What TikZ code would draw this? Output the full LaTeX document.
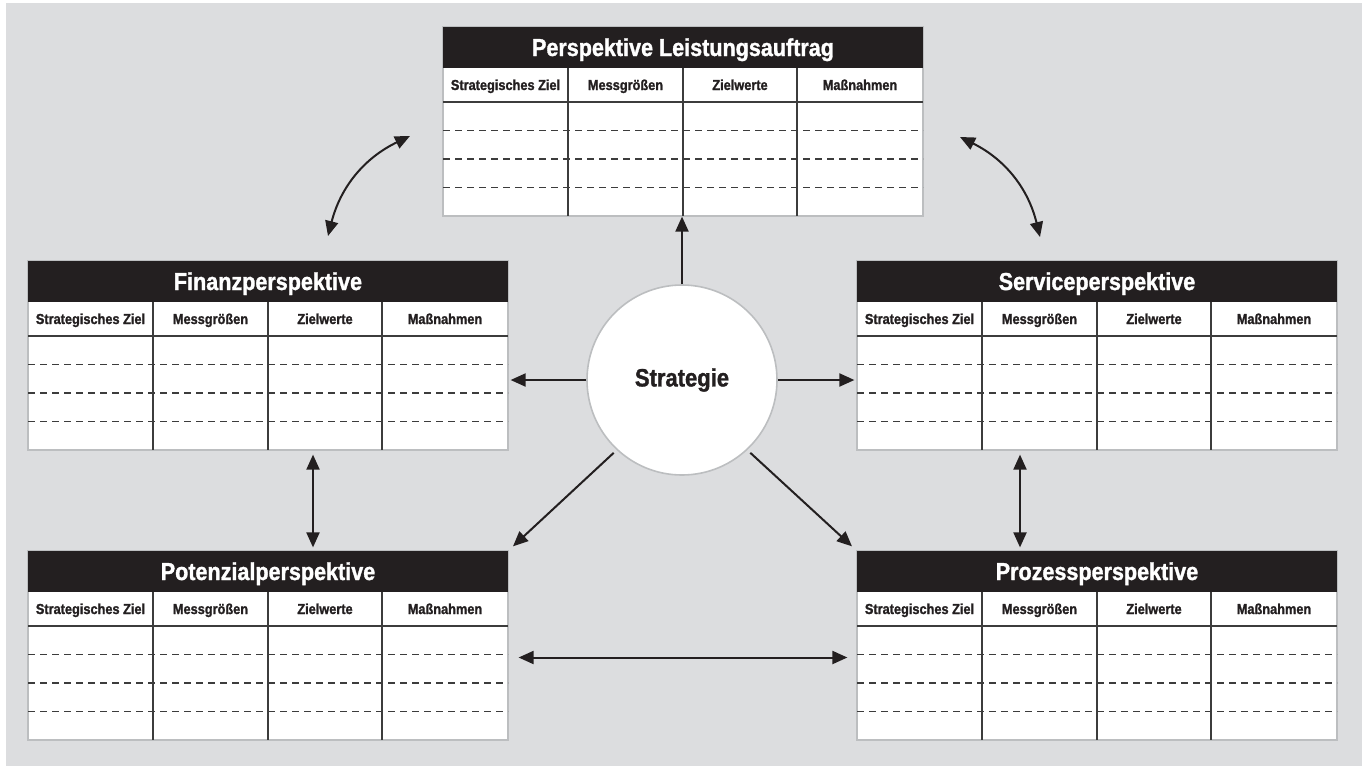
\documentclass[tikz,border=0pt]{standalone}
\usepackage{fontspec}
\setmainfont{Liberation Sans}[FakeStretch=0.88, BoldFeatures={FakeBold=1.3}]
\usepackage{tikz}
\usetikzlibrary{arrows.meta}

\definecolor{hintergrund}{RGB}{220,221,223}
\definecolor{dunkel}{RGB}{35,31,32}
\definecolor{rahmen}{RGB}{188,190,192}
\definecolor{gitter}{RGB}{60,60,60}

\tikzset{
	tabelle/.style={draw=rahmen, line width=1.2pt, fill=white, minimum width=480pt, minimum height=189pt, inner sep=0pt},
	kopf/.style={fill=dunkel},
	titel/.style={text=white, font=\bfseries\fontsize{24.5}{28}\selectfont, anchor=base},
	spalte/.style={text=dunkel, font=\bfseries\fontsize{14.5}{17}\selectfont, anchor=base},
	linie/.style={draw=gitter, line width=1.6pt},
	strich/.style={draw=gitter, line width=1.1pt, dash pattern=on 7pt off 5pt},
	kreis/.style={circle, draw=rahmen, line width=1.6pt, fill=white, minimum size=190pt, inner sep=0pt, font=\bfseries\fontsize{25}{30}\selectfont, text=dunkel},
	pfeil/.style={draw=dunkel, line width=2pt, -{Triangle[length=15pt,width=13pt]}},
	doppelpfeil/.style={draw=dunkel, line width=2pt, {Triangle[length=15pt,width=13pt]}-{Triangle[length=15pt,width=13pt]}}
}

% name, x, y (oben links), titel
\newcommand{\perspektive}[4]{%
	\begin{scope}[shift={(#2,#3)}]
		\node[tabelle] (#1) at (240,94.5) {};
		\fill[kopf] (0,0) rectangle (480,41);
		\node[titel] at (240,29) {#4};
		\foreach \x/\t in {62.5/Strategisches Ziel,182.5/Messgrößen,297/Zielwerte,417/Maßnahmen}
			\node[spalte] at (\x,63) {\t};
		\foreach \y in {103.5,132,160.5}
			\draw[strich] (0,\y) -- (480,\y);
		\draw[linie] (0,75) -- (480,75);
		\foreach \x in {125,240,354}
			\draw[linie] (\x,41) -- (\x,189);
	\end{scope}}

\begin{document}
\begin{tikzpicture}[x=1pt, y=-1pt]
	\useasboundingbox (0,0) rectangle (1362,766);
	\fill[hintergrund] (6,3) rectangle (1362,766);

	\perspektive{auftrag}{443}{27}{Perspektive Leistungsauftrag}
	\perspektive{finanz}{28}{261}{Finanzperspektive}
	\perspektive{service}{857}{261}{Serviceperspektive}
	\perspektive{potenzial}{28}{551}{Potenzialperspektive}
	\perspektive{prozess}{857}{551}{Prozessperspektive}

	\node[kreis] (strategie) at (682,380) {Strategie};

	\coordinate (lo) at (328,236);
	\coordinate (lu) at (410,136);
	\coordinate (ro) at (960,137);
	\coordinate (ru) at (1040,237);

	\draw[pfeil] (strategie.north) -- (strategie.north |- auftrag.south);
	\draw[pfeil] (strategie.west) -- ([xshift=2pt]strategie.west -| finanz.east);
	\draw[pfeil] (strategie.east) -- ([xshift=-2pt]strategie.east -| service.west);
	\draw[pfeil, shorten <=4pt, shorten >=6pt] (strategie.227) -- (potenzial.north east);
	\draw[pfeil, shorten <=4pt, shorten >=6pt] (strategie.313) -- (prozess.north west);

	\draw[doppelpfeil, shorten <=4pt, shorten >=3pt] ([xshift=45pt]finanz.south) -- ([xshift=45pt]potenzial.north);
	\draw[doppelpfeil, shorten <=4pt, shorten >=3pt] ([xshift=-77pt]service.south) -- ([xshift=-77pt]prozess.north);
	\draw[doppelpfeil, shorten <=10pt, shorten >=9pt] ([yshift=-12pt]potenzial.east) -- ([yshift=-12pt]prozess.west);

	\draw[doppelpfeil] (lo) to[bend left=25] (lu);
	\draw[doppelpfeil] (ro) to[bend left=25] (ru);
\end{tikzpicture}
\end{document}
